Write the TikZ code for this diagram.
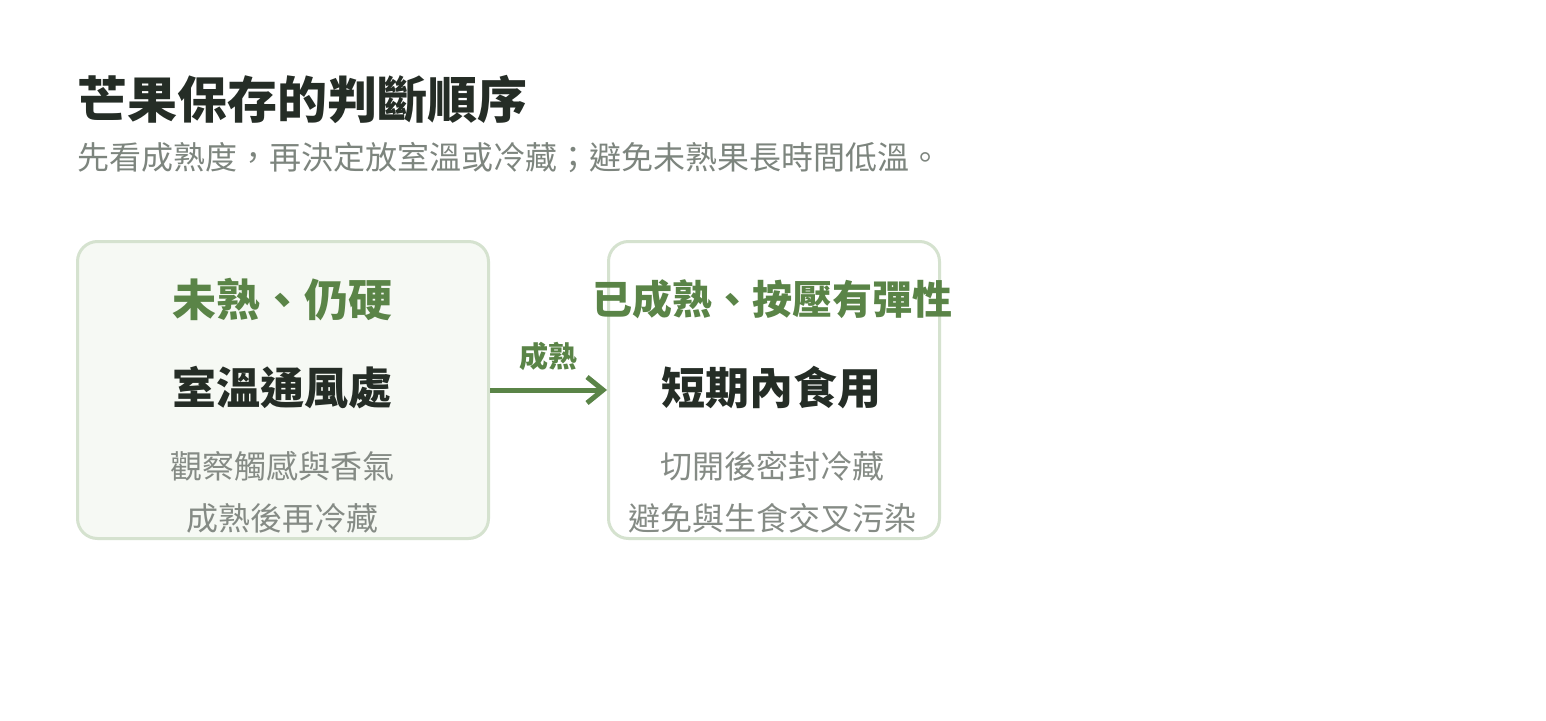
\documentclass[tikz,border=0pt]{standalone}
\usepackage{fontspec}
\setmainfont{Noto Sans CJK TC}
\usetikzlibrary{arrows.meta}
\definecolor{titlecol}{HTML}{252D26}
\definecolor{subcol}{HTML}{7D857E}
\definecolor{greencol}{HTML}{5A8447}
\definecolor{bordercol}{HTML}{D5E2CF}
\definecolor{fillcol}{HTML}{F6F9F4}
\definecolor{bodycol}{HTML}{858B85}
\tikzset{
  txt/.style={inner sep=0pt, anchor=base},
  titletxt/.style={txt, anchor=base west, text=titlecol, font=\fontsize{50}{54}\selectfont\bfseries},
  subtxt/.style={txt, anchor=base west, text=subcol, font=\fontsize{32}{36}\selectfont},
  headtxt/.style={txt, text=greencol, font=\fontsize{#1}{#1}\selectfont\bfseries},
  maintxt/.style={txt, text=titlecol, font=\fontsize{44}{48}\selectfont\bfseries},
  bodytxt/.style={txt, text=bodycol, font=\fontsize{32}{36}\selectfont},
  card/.style={draw=bordercol, line width=3pt, rounded corners=20pt, inner sep=0pt, minimum height=297pt},
  flow/.style={draw=greencol, line width=5pt, -{Straight Barb[length=16pt,width=26pt]}},
  flowlabel/.style={txt, text=greencol, font=\fontsize{29}{32}\selectfont\bfseries}
}
\begin{document}
\begin{tikzpicture}[x=1pt,y=-1pt]
\useasboundingbox (0,0) rectangle (1546,720);
\fill[white] (0,0) rectangle (1546,720);
\node[titletxt] (title) at (77,118) {芒果保存的判斷順序};
\node[subtxt] (subtitle) at (77,169) {先看成熟度，再決定放室溫或冷藏；避免未熟果長時間低溫。};
\node[card, fill=fillcol, minimum width=411pt] (boxL) at (283,390) {};
\node[card, fill=white, minimum width=331pt] (boxR) at (774,390) {};
\node[headtxt=44] (headL) at (282,316) {未熟、仍硬};
\node[maintxt] (mainL) at (282,404) {室溫通風處};
\node[bodytxt] (bodyL1) at (282,478) {觀察觸感與香氣};
\node[bodytxt] (bodyL2) at (282,530) {成熟後再冷藏};
\node[headtxt=40] (headR) at (772,314) {已成熟、按壓有彈性};
\node[maintxt] (mainR) at (771,404) {短期內食用};
\node[bodytxt] (bodyR1) at (772,478) {切開後密封冷藏};
\node[bodytxt] (bodyR2) at (772,530) {避免與生食交叉污染};
\draw[flow] (boxL.east) -- (boxR.west) node[flowlabel, midway, yshift=23pt] (flowlab) {成熟};
\end{tikzpicture}
\end{document}
